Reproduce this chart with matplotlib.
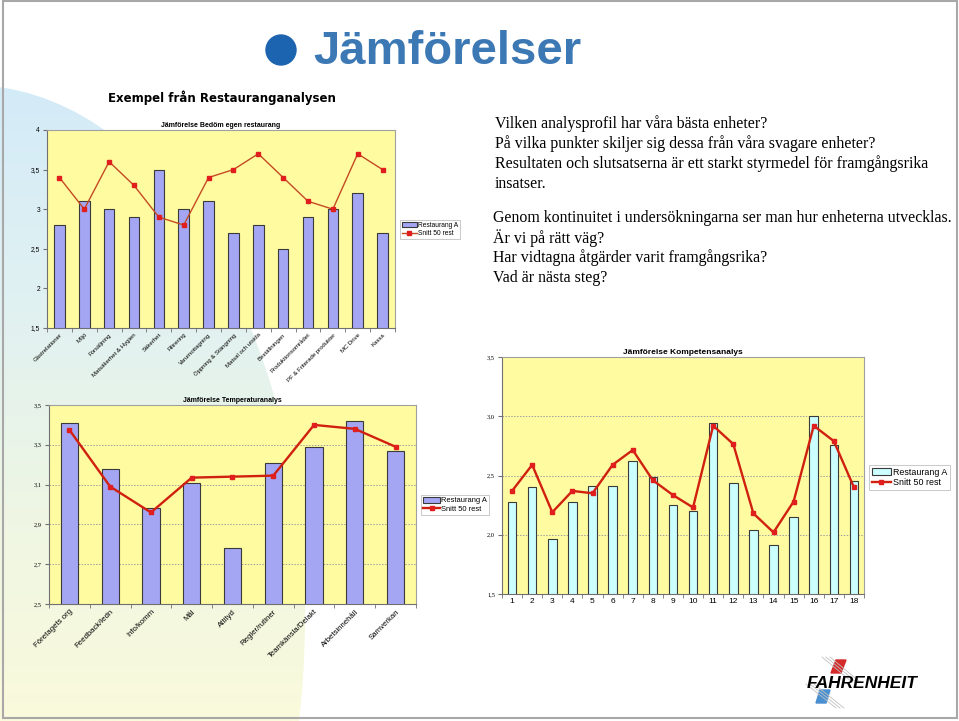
import matplotlib.pyplot as plt
from matplotlib.patches import Ellipse, Rectangle, Polygon, Circle
from matplotlib.colors import LinearSegmentedColormap
import numpy as np

# ---- data: Bedöm egen restaurang ----
bedom_kat = ["Gästrelationer", "Miljö", "Försäljning", "Matsäkerhet & Hygien",
             "Säkerhet", "Filtrering", "Varumottagning", "Öppning & Stängning",
             "Matsal och utsida", "Beställningen", "Produktionsområdet",
             "PF & Friterade produkter", "MC Drive", "Kassa"]
bedom_rest_a = [2.8, 3.1, 3.0, 2.9, 3.5, 3.0, 3.1, 2.7, 2.8, 2.5, 2.9, 3.0, 3.2, 2.7]
bedom_snitt = [3.4, 3.0, 3.6, 3.3, 2.9, 2.8, 3.4, 3.5, 3.7, 3.4, 3.1, 3.0, 3.7, 3.5]
bedom_yticks = [1.5, 2.0, 2.5, 3.0, 3.5, 4.0]
bedom_ylabels = ["1,5", "2", "2,5", "3", "3,5", "4"]

# ---- data: Temperaturanalys ----
temp_kat = ["Företagets org", "Feedback/ledn", "Info/komm", "Mål", "Attityd",
            "Regler/rutiner", "Teamkänsla/Delakt", "Arbetsinnehåll", "Samverkan"]
temp_rest_a = [3.41, 3.18, 2.98, 3.11, 2.78, 3.21, 3.29, 3.42, 3.27]
temp_snitt = [3.375, 3.09, 2.96, 3.135, 3.14, 3.145, 3.40, 3.38, 3.29]
temp_yticks = [2.5, 2.7, 2.9, 3.1, 3.3, 3.5]
temp_ylabels = ["2,5", "2,7", "2,9", "3,1", "3,3", "3,5"]

# ---- data: Kompetensanalys ----
komp_kat = [str(i) for i in range(1, 19)]
komp_rest_a = [2.28, 2.40, 1.96, 2.28, 2.41, 2.41, 2.62, 2.49, 2.25,
               2.20, 2.94, 2.44, 2.04, 1.91, 2.15, 3.00, 2.76, 2.45]
komp_snitt = [2.37, 2.59, 2.19, 2.37, 2.35, 2.59, 2.715, 2.46, 2.335,
              2.23, 2.92, 2.765, 2.18, 2.02, 2.28, 2.92, 2.79, 2.40]
komp_yticks = [1.5, 2.0, 2.5, 3.0, 3.5]
komp_ylabels = ["1,5", "2,0", "2,5", "3,0", "3,5"]

serier = ["Restaurang A", "Snitt 50 rest"]

text_block1 = ["Vilken analysprofil har våra bästa enheter?",
               "På vilka punkter skiljer sig dessa från våra svagare enheter?",
               "Resultaten och slutsatserna är ett starkt styrmedel för framgångsrika",
               "insatser."]
text_block2 = ["Genom kontinuitet i undersökningarna ser man hur enheterna utvecklas.",
               "Är vi på rätt väg?",
               "Har vidtagna åtgärder varit framgångsrika?",
               "Vad är nästa steg?"]

W, H = 959, 721
sans = "Liberation Sans"
serif = "Liberation Serif"

fig = plt.figure(figsize=(W / 100, H / 100), dpi=100)

# background layer in pixel coordinates
bg = fig.add_axes([0, 0, 1, 1])
cmap = LinearSegmentedColormap.from_list("bg", ["#d3ebf8", "#e0f1f2", "#eef6e4", "#fafadc"])
grad = np.linspace(0, 1, 256).reshape(-1, 1)
im = bg.imshow(grad, extent=[0, 400, 721, 80], cmap=cmap, aspect="auto", zorder=0)
ell = Ellipse((-30, 620), 670, 1070, facecolor="none", edgecolor="none")
bg.add_patch(ell)
im.set_clip_path(ell)
bg.set_xlim(0, W)
bg.set_ylim(H, 0)
bg.axis("off")

# slide frame
bg.add_patch(Rectangle((3, 1), 954, 717, fill=False, edgecolor="#a8a8a8", lw=1.5))

# heading
bg.add_patch(Circle((281, 50), 15, color="#1d64b0"))
bg.text(313, 52, "Jämförelser", fontsize=34, fontweight="bold", color="#3b78b4",
        family=sans, va="center", ha="left")
bg.text(108, 98, "Exempel från Restauranganalysen", fontsize=8.5, fontweight="bold",
        family="DejaVu Sans", va="center", ha="left")

for i, t in enumerate(text_block1):
    bg.text(495, 124 + i * 20, t, fontsize=11.4, family=serif, va="center")
for i, t in enumerate(text_block2):
    bg.text(493, 218 + i * 20, t, fontsize=11.4, family=serif, va="center")

# Fahrenheit logo
for dx in [0, 4, 8]:
    bg.plot([822 + dx, 852 + dx], [657, 682], color="#c0c0c0", lw=0.6)
    bg.plot([806 + dx, 836 + dx], [684, 708], color="#c0c0c0", lw=0.6)
bg.add_patch(Polygon([[836, 660], [846, 660], [841, 673], [831, 673]], color="#d42a2a"))
bg.add_patch(Polygon([[820, 690], [830, 690], [826, 703], [816, 703]], color="#4a90d0"))
bg.text(862, 683, "FAHRENHEIT", fontsize=12.5, fontweight="bold", style="italic",
        family=sans, ha="center", va="center")


def px_axes(x0, y0, x1, y1):
    return fig.add_axes([x0 / W, 1 - y1 / H, (x1 - x0) / W, (y1 - y0) / H])


def chart(ax, kat, bars, line, yticks, ylabels, title, barcol, linecol, lw,
          kat_size, kat_rot, tick_font, tick_size, title_size, grid):
    x = np.arange(len(kat))
    ax.set_facecolor("#fffba0")
    b = ax.bar(x, bars, width=0.42, color=barcol, edgecolor="#3a3a3a", lw=0.8, zorder=2)
    ln, = ax.plot(x, line, color=linecol, lw=lw, marker="s", ms=3.2,
                  mfc="#e01e1e", mec="#e01e1e", zorder=3)
    ax.set_xlim(-0.5, len(kat) - 0.5)
    ax.set_ylim(yticks[0], yticks[-1])
    ax.set_yticks(yticks)
    ax.set_yticklabels(ylabels, family=tick_font, fontsize=tick_size)
    ax.set_xticks(x)
    if kat_rot:
        ax.set_xticklabels(kat, rotation=kat_rot, ha="right", rotation_mode="anchor",
                           family=sans, fontsize=kat_size)
    else:
        ax.set_xticklabels(kat, family=sans, fontsize=kat_size)
    ax.set_xticks(np.arange(len(kat) + 1) - 0.5, minor=True)
    ax.tick_params(axis="x", which="major", length=0, pad=3)
    ax.tick_params(axis="x", which="minor", length=3, color="#707070")
    ax.tick_params(axis="y", length=3, color="#707070", pad=2)
    if grid:
        for yv in yticks[1:-1]:
            ax.axhline(yv, color="#a0a0a0", ls=(0, (1.5, 1.5)), lw=0.7, zorder=1)
    for s in ax.spines.values():
        s.set_color("#a0a0a0")
        s.set_linewidth(0.8)
    ax.spines["left"].set_color("#707070")
    ax.spines["bottom"].set_color("#707070")
    ax.set_title(title, fontsize=title_size, fontweight="bold", family=sans, pad=2)
    return b, ln


def legend_at(ax, handles, x0, y0, size):
    leg = ax.legend(handles, serier, loc="upper left",
                    bbox_to_anchor=(x0 / W, 1 - y0 / H),
                    bbox_transform=fig.transFigure, frameon=True,
                    fancybox=False, borderpad=0.3, labelspacing=0.15,
                    handlelength=2.2, handletextpad=0.2, borderaxespad=0,
                    prop={"family": sans, "size": size})
    leg.get_frame().set_edgecolor("#b0b0b0")
    leg.get_frame().set_linewidth(0.6)


# chart 1: Bedöm egen restaurang
ax1 = px_axes(47, 130, 395, 328)
h1 = chart(ax1, bedom_kat, bedom_rest_a, bedom_snitt, bedom_yticks, bedom_ylabels,
           "Jämförelse Bedöm egen restaurang", "#a4a6f4", "#c44a22", 1.0,
           4.3, 45, sans, 4.8, 5.0, False)
legend_at(ax1, h1, 400, 220, 4.8)

# chart 2: Temperaturanalys
ax2 = px_axes(49, 405, 416, 604)
h2 = chart(ax2, temp_kat, temp_rest_a, temp_snitt, temp_yticks, temp_ylabels,
           "Jämförelse Temperaturanalys", "#a4a6f4", "#d0200f", 1.7,
           5.6, 45, serif, 4.6, 5.0, True)
legend_at(ax2, h2, 421, 495, 5.4)

# chart 3: Kompetensanalys
ax3 = px_axes(502, 357, 864, 594)
h3 = chart(ax3, komp_kat, komp_rest_a, komp_snitt, komp_yticks, komp_ylabels,
           "Jämförelse Kompetensanalys", "#ccffff", "#d0200f", 1.7,
           6.0, 0, serif, 4.6, 6.0, True)
legend_at(ax3, h3, 869, 465, 6.4)

fig.savefig("out.png", dpi=100)
